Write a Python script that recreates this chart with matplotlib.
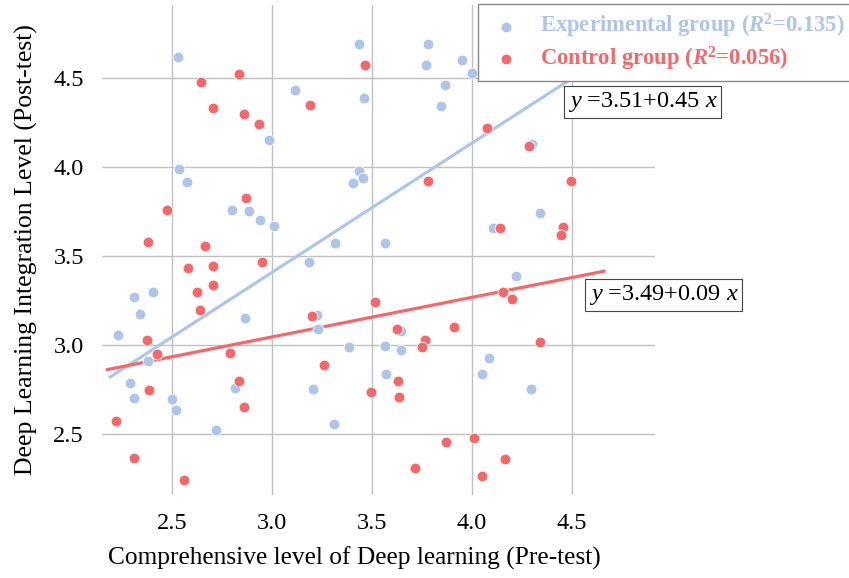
import numpy as np
import matplotlib
matplotlib.use("Agg")
import matplotlib.pyplot as plt

# experimental group: (pre-test, post-test)
exp_x = [2.53, 3.115, 3.435, 3.46, 2.985, 2.535, 2.575, 3.435, 3.455, 3.405,
         2.80, 2.885, 2.94, 3.01, 3.315, 3.78, 3.77, 3.95, 4.00, 3.865,
         3.845, 4.30, 4.34, 4.105, 3.565, 3.185, 2.31, 2.405, 2.34, 2.865,
         3.225, 3.23, 2.23, 2.38, 3.385, 2.29, 2.31, 2.815, 2.50, 2.52,
         3.205, 2.72, 3.31, 4.22, 3.645, 3.565, 3.645, 4.085, 3.57, 4.05,
         4.295]
exp_y = [4.62, 4.43, 4.69, 4.39, 4.15, 3.99, 3.915, 3.98, 3.94, 3.91,
         3.76, 3.75, 3.70, 3.67, 3.575, 4.69, 4.57, 4.60, 4.53, 4.46,
         4.34, 4.13, 3.74, 3.657, 3.573, 3.466, 3.27, 3.30, 3.174, 3.152,
         3.17, 3.09, 3.056, 2.91, 2.99, 2.787, 2.70, 2.76, 2.697, 2.635,
         2.753, 2.522, 2.556, 3.388, 3.08, 2.994, 2.97, 2.927, 2.837, 2.837,
         2.753]

# control group
ctl_x = [2.645, 2.835, 3.19, 3.465, 2.705, 2.86, 2.935, 2.87, 2.475, 2.38,
         2.665, 4.075, 4.285, 3.78, 4.495, 4.14, 4.455, 4.445, 2.58, 2.705,
         2.95, 2.625, 2.705, 2.64, 3.20, 3.515, 2.375, 2.425, 2.79, 3.26,
         2.385, 2.835, 2.86, 3.495, 2.22, 2.31, 2.56, 4.155, 4.20, 3.625,
         3.91, 3.765, 3.75, 4.34, 3.63, 3.635, 3.87, 4.01, 3.715, 4.165,
         4.05]
ctl_y = [4.48, 4.52, 4.35, 4.57, 4.33, 4.30, 4.24, 3.826, 3.76, 3.58,
         3.556, 4.22, 4.12, 3.92, 3.92, 3.657, 3.66, 3.62, 3.433, 3.444,
         3.466, 3.298, 3.337, 3.197, 3.163, 3.242, 3.028, 2.95, 2.955, 2.888,
         2.747, 2.798, 2.65, 2.736, 2.573, 2.365, 2.24, 3.298, 3.258, 3.09,
         3.10, 3.028, 2.99, 3.017, 2.798, 2.708, 2.455, 2.478, 2.31, 2.36,
         2.264]

# fitted lines as drawn (endpoints)
exp_fit_x = [2.185, 4.505]
exp_fit_y = [2.815, 4.50]
ctl_fit_x = [2.17, 4.67]
ctl_fit_y = [2.86, 3.416]

exp_label = r"Experimental group ($\mathbfit{R}^{\mathbf{2}}$=0.135)"
ctl_label = r"Control group ($\mathbfit{R}^{\mathbf{2}}$=0.056)"
exp_eq = r"$y$ =3.51+0.45 $x$"
ctl_eq = r"$y$ =3.49+0.09 $x$"

xticks = [2.5, 3.0, 3.5, 4.0, 4.5]
yticks = [2.5, 3.0, 3.5, 4.0, 4.5]

BLUE = "#aec5ea"
RED = "#f4676a"

plt.rcParams["font.family"] = ["Liberation Serif", "DejaVu Serif"]
plt.rcParams["mathtext.fontset"] = "custom"
plt.rcParams["mathtext.rm"] = "Liberation Serif"
plt.rcParams["mathtext.it"] = "Liberation Serif:italic"
plt.rcParams["mathtext.bf"] = "Liberation Serif:bold"
plt.rcParams["mathtext.bfit"] = "Liberation Serif:bold:italic"

fig = plt.figure(figsize=(8.49, 5.78), dpi=100)
ax = fig.add_axes([0.120, 0.1436, 0.651, 0.8478])

ax.plot(exp_fit_x, exp_fit_y, color=BLUE, lw=2.3, zorder=2, solid_capstyle="butt")
ax.plot(ctl_fit_x, ctl_fit_y, color=RED, lw=2.3, zorder=2, solid_capstyle="butt")

h1 = ax.scatter(exp_x, exp_y, s=60, color=BLUE, edgecolors="white", linewidths=0.6, zorder=3)
h2 = ax.scatter(ctl_x, ctl_y, s=60, color=RED, edgecolors="white", linewidths=0.6, zorder=4)

ax.set_xlim(2.15, 4.915)
ax.set_ylim(2.157, 4.91)
ax.set_xticks(xticks)
ax.set_yticks(yticks)
ax.set_xticklabels([f"{t:.1f}" for t in xticks])
ax.set_yticklabels([f"{t:.1f}" for t in yticks])
ax.tick_params(length=0, labelsize=17.5)
ax.tick_params(axis="x", pad=13)
ax.tick_params(axis="y", pad=13)
ax.grid(True, color="#c0c0c0", lw=1.0)
ax.set_axisbelow(True)
for s in ax.spines.values():
    s.set_visible(False)

ax.set_xlabel("Comprehensive level of Deep learning (Pre-test)", fontsize=18.3)
ax.xaxis.set_label_coords(0.456, -0.105)
ax.set_ylabel("Deep Learning Integration Level (Post-test)", fontsize=18.5, labelpad=11)

box = dict(boxstyle="square,pad=0.16", fc="white", ec="#444444", lw=0.8)
ax.text(4.48, 4.365, exp_eq, fontsize=17.5, va="center", ha="left", bbox=box, zorder=5)
ax.text(4.585, 3.281, ctl_eq, fontsize=17.5, va="center", ha="left", bbox=box, zorder=5)

leg = fig.legend([h1, h2], [exp_label, ctl_label], loc="upper left",
                 bbox_to_anchor=(478 / 849, 1 - 4 / 578), borderaxespad=0,
                 fancybox=False, framealpha=1, edgecolor="#888888",
                 handletextpad=0.6, borderpad=0.35, labelspacing=0.2,
                 handlelength=1.8, prop={"size": 16.3, "weight": "bold"},
                 scatterpoints=1)
leg.get_frame().set_linewidth(1.0)
for txt, c in zip(leg.get_texts(), [BLUE, RED]):
    txt.set_color(c)

fig.savefig("out.png", dpi=100)
